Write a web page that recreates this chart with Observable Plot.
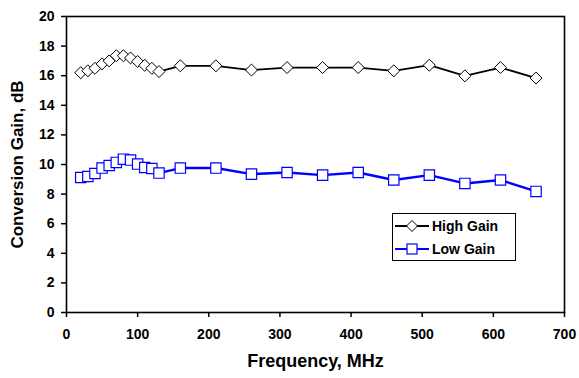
<!DOCTYPE html>
<html>
<head>
<meta charset="utf-8">
<script src="https://cdn.jsdelivr.net/npm/d3@7"></script>
<script src="https://cdn.jsdelivr.net/npm/@observablehq/plot@0.6"></script>
<style>
  html, body { margin: 0; padding: 0; background: #fff; }
  #wrap { position: relative; width: 579px; height: 378px; font-family: "Liberation Sans", Arial, sans-serif; }
  #legend { position: absolute; left: 392px; top: 213px; width: 122px; height: 46px; border: 1px solid #000; background: #fff; box-sizing: content-box; }
  .item { display: flex; align-items: center; height: 23px; font-weight: bold; font-size: 14px; color: #000; }
  .item svg { margin-left: 2px; margin-right: 3px; }
</style>
</head>
<body>
<div id="wrap">
  <div id="chart"></div>
  <div id="legend"></div>
</div>
<script>
const freq = [20,30,40,50,60,70,80,90,100,110,120,130,160,210,260,310,360,410,460,510,560,610,660];
const highGain = [16.2,16.33,16.5,16.8,17.0,17.35,17.35,17.2,16.96,16.7,16.5,16.28,16.67,16.67,16.38,16.55,16.55,16.55,16.33,16.71,15.99,16.55,15.84];
const lowGain = [9.12,9.19,9.39,9.76,9.93,10.14,10.36,10.3,10.03,9.8,9.73,9.42,9.76,9.76,9.35,9.46,9.28,9.46,8.95,9.28,8.72,8.95,8.18];
const xTicks = [0,100,200,300,400,500,600,700];
const yTicks = [0,2,4,6,8,10,12,14,16,18,20];
const seriesNames = ["High Gain", "Low Gain"];
const xLabel = "Frequency, MHz";
const yLabel = "Conversion Gain, dB";

const high = freq.map((f, i) => ({f, v: highGain[i]}));
const low = freq.map((f, i) => ({f, v: lowGain[i]}));

const chart = Plot.plot({
  width: 579,
  height: 378,
  marginLeft: 66,
  marginRight: 15,
  marginTop: 16,
  marginBottom: 66,
  style: {fontFamily: "'Liberation Sans', Arial, sans-serif", background: "#fff", color: "#000"},
  x: {domain: [0, 700]},
  y: {domain: [0, 20]},
  marks: [
    Plot.axisX({ticks: xTicks, tickSize: 5, tickPadding: 12, fontSize: 14, fontWeight: "bold", label: null, strokeWidth: 1.5}),
    Plot.axisY({ticks: yTicks, tickSize: 5, tickPadding: 7, fontSize: 14, fontWeight: "bold", label: null, strokeWidth: 1.5}),
    Plot.frame({stroke: "#000", strokeWidth: 1.6}),
    Plot.line(high, {x: "f", y: "v", stroke: "#000", strokeWidth: 1.8}),
    Plot.dot(high, {x: "f", y: "v", symbol: "diamond2", r: 5.4, stroke: "#000", strokeWidth: 1, fill: "#fff"}),
    Plot.line(low, {x: "f", y: "v", stroke: "#0000ff", strokeWidth: 2.4}),
    Plot.dot(low, {x: "f", y: "v", symbol: "square2", r: 6.6, stroke: "#0000ff", strokeWidth: 1.2, fill: "#fff"}),
    Plot.text([xLabel], {frameAnchor: "bottom", dy: 54, fontSize: 18, fontWeight: "bold", fill: "#000"}),
    Plot.text([yLabel], {frameAnchor: "left", dx: -49, rotate: -90, textAnchor: "middle", fontSize: 17, fontWeight: "bold", fill: "#000"})
  ]
});
document.getElementById("chart").appendChild(chart);

const legend = document.getElementById("legend");
const mk = [
  {name: seriesNames[0], color: "#000", sym: "diamond"},
  {name: seriesNames[1], color: "#0000ff", sym: "square"}
];
for (const m of mk) {
  const d = document.createElement("div");
  d.className = "item";
  const shape = m.sym === "diamond"
    ? `<path d="M17,1.5 L22.5,7 L17,12.5 L11.5,7 Z" fill="#fff" stroke="${m.color}" stroke-width="1"/>`
    : `<rect x="12" y="2" width="10" height="10" fill="#fff" stroke="${m.color}" stroke-width="1.2"/>`;
  d.innerHTML = `<svg width="34" height="14"><line x1="0" y1="7" x2="34" y2="7" stroke="${m.color}" stroke-width="${m.sym === "diamond" ? 1.8 : 2.2}"/>${shape}</svg><span>${m.name}</span>`;
  legend.appendChild(d);
}
</script>
</body>
</html>
